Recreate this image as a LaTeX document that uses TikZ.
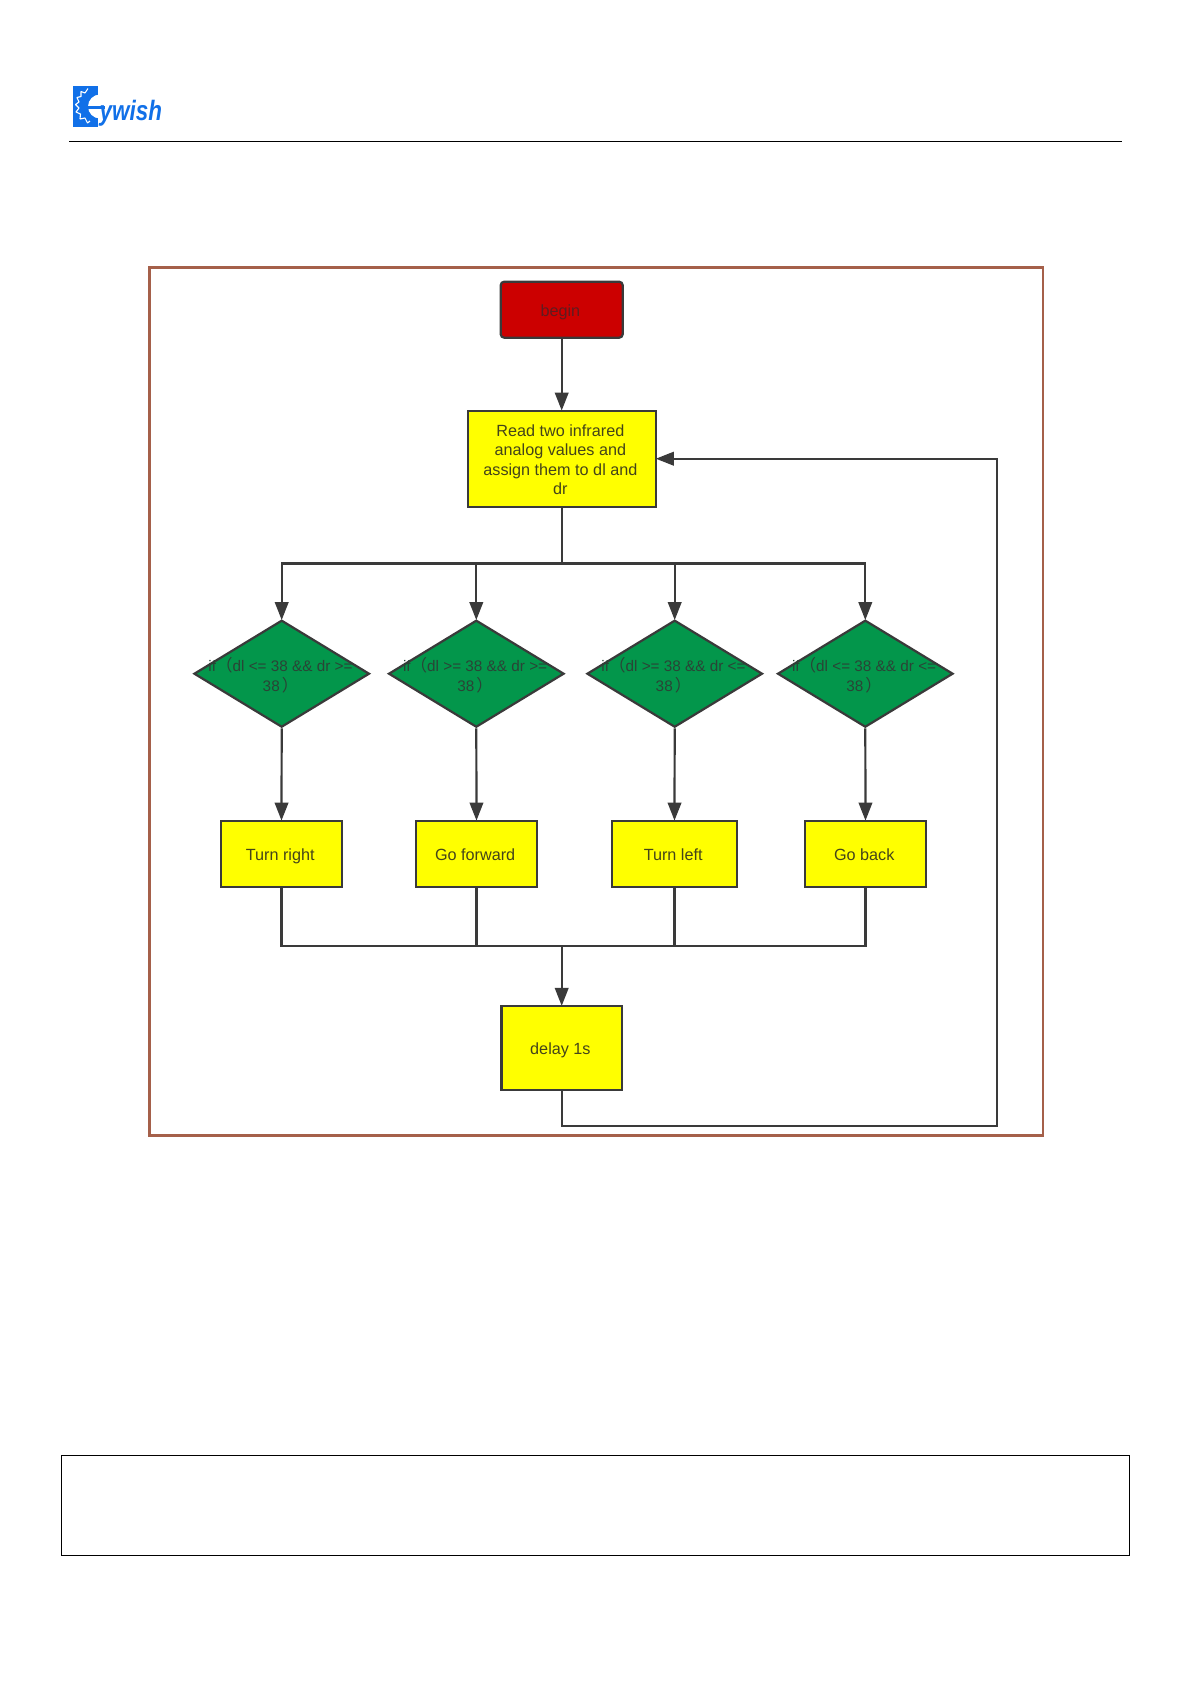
\documentclass[tikz,border=0pt]{standalone}
\usepackage{fontspec}
\setmainfont{Liberation Sans}
\newfontfamily\cjk{Noto Sans CJK SC}
\usetikzlibrary{shapes.geometric,arrows.meta,calc}
\definecolor{ink}{HTML}{3A3A3A}
\definecolor{txt}{HTML}{44441A}
\definecolor{txtg}{HTML}{2A4436}
\definecolor{txtr}{HTML}{5E1C20}
\definecolor{frameb}{HTML}{A5604A}
\definecolor{gre}{HTML}{03964B}
\definecolor{redf}{HTML}{CC0000}
\definecolor{yel}{rgb}{1,1,0}
\definecolor{logob}{HTML}{1170E8}
\newcommand{\ls}{\kern2.6pt}
\newcommand{\lp}{{\fontsize{16.5}{19.3}\cjk（}}
\newcommand{\rp}{{\fontsize{16.5}{19.3}\kern2pt\cjk）}}
\tikzset{
  conn/.style={draw=ink,line width=2.2pt},
  arr/.style={conn,shorten >=-1pt,-{Triangle[length=18pt,width=13.5pt]}},
  base/.style={draw=ink,line width=2.2pt,inner sep=0pt,align=center,text=txt,font=\fontsize{16.2}{19.3}\selectfont},
  one/.style={text height=13.6pt,text depth=0pt},
  ybox/.style={base,rectangle,fill=yel},
  redbox/.style={base,rectangle,rounded corners=3.5pt,fill=redf,text=txtr},
  dia/.style={draw=ink,line width=2.2pt,diamond,fill=gre,inner sep=0pt,shape aspect=1.65,minimum width=175.5pt,minimum height=107pt},
  diat/.style={align=center,inner sep=0pt,text=txtg,font=\fontsize{15.3}{19.3}\selectfont},
}
\begin{document}
\begin{tikzpicture}[x=1pt,y=1pt]
\useasboundingbox (0,0) rectangle (1191,-1684);
% logo
\fill[logob] (73,-86) rectangle (97.5,-127);
\fill[white] (100,-106.5) circle (12);
\fill[white] (97.5,-94) rectangle (100,-119);
\draw[white,line width=1.1pt,line join=bevel]
  (88,-88.5) -- (85,-93) -- (81,-91.5) -- (81,-96.5) -- (77,-97.5) -- (79,-102) -- (75.5,-104.5) -- (79,-108)
  -- (76,-112) -- (80.5,-114) -- (80,-119) -- (85,-118) -- (87.5,-123) -- (90,-121);
\fill[logob] (88,-105.5) rectangle (105,-108.5);
\node[anchor=base west,inner sep=0pt,text=logob] (logot) at (99.5,-120) {\scalebox{0.8}[1]{\fontsize{28}{28}\selectfont\itshape\bfseries ywish}};
% header line and footer box
\coordinate (hl) at (69,-141);
\coordinate (hr) at (1122,-141);
\draw[black,line width=1pt] (hl) -- (hr);
\draw[black,line width=0.8pt] (61.5,-1455.5) rectangle (1129.5,-1555);
% outer frame
\draw[frameb,line width=2.6pt] (149.5,-267.5) rectangle (1043,-1135.5);
% nodes
\node[redbox,one,minimum width=122pt,minimum height=56pt] (begin) at (561.7,-309.7) {begin\ls};
\node[ybox,minimum width=188pt,minimum height=96pt] (read) at (561.7,-458.7) {\rule{0pt}{14pt}Read two infrared\ls\\analog values and\ls\\assign them to dl and\ls\\dr\ls};
\node[dia] (d1) at (281.7,-673.7) {};
\node[dia] (d2) at (476.3,-673.7) {};
\node[dia] (d3) at (674.7,-673.7) {};
\node[dia] (d4) at (865.3,-673.7) {};
\node[diat] (t1) at (280.5,-675.2) {if\lp dl <= 38 \&\& dr >=\\38\rp};
\node[diat] (t2) at (475.1,-675.2) {if\lp dl >= 38 \&\& dr >=\\38\rp};
\node[diat] (t3) at (673.5,-675.2) {if\lp dl >= 38 \&\& dr <=\\38\rp};
\node[diat] (t4) at (864.1,-675.2) {if\lp dl <= 38 \&\& dr <=\\38\rp};
\node[ybox,one,minimum width=121pt,minimum height=66pt] (b1) at (281.5,-853.7) {Turn right\ls};
\node[ybox,one,minimum width=121pt,minimum height=66pt] (b2) at (476.5,-853.7) {Go forward\ls};
\node[ybox,one,minimum width=125.5pt,minimum height=66pt] (b3) at (674.5,-853.7) {Turn left\ls};
\node[ybox,one,minimum width=120.5pt,minimum height=66pt] (b4) at (865.5,-853.7) {Go back\ls};
\node[ybox,one,minimum width=120.5pt,minimum height=84pt] (delay) at (561.7,-1048) {delay 1s\ls};
% junctions
\coordinate (busT) at (561.7,-563.5);
\coordinate (busB) at (561.7,-946);
\coordinate (loopc) at (996.6,-1125.7);
% connectors
\draw[arr] (begin.south) -- (read.north);
\foreach \d in {d1,d2,d3,d4}{
  \draw[arr] (read.south) -- (busT) -| (\d.north);
}
\draw[arr] (d1.south) -- (b1.north);
\draw[arr] (d2.south) -- (b2.north);
\draw[arr] (d3.south) -- (b3.north);
\draw[arr] (d4.south) -- (b4.north);
\foreach \b in {b1,b2,b3,b4}{
  \draw[conn] (\b.south) |- (busB);
}
\draw[arr] (busB) -- (delay.north);
\draw[arr] (delay.south) |- (loopc) -- (loopc |- read.east) -- (read.east);
\end{tikzpicture}
\end{document}
